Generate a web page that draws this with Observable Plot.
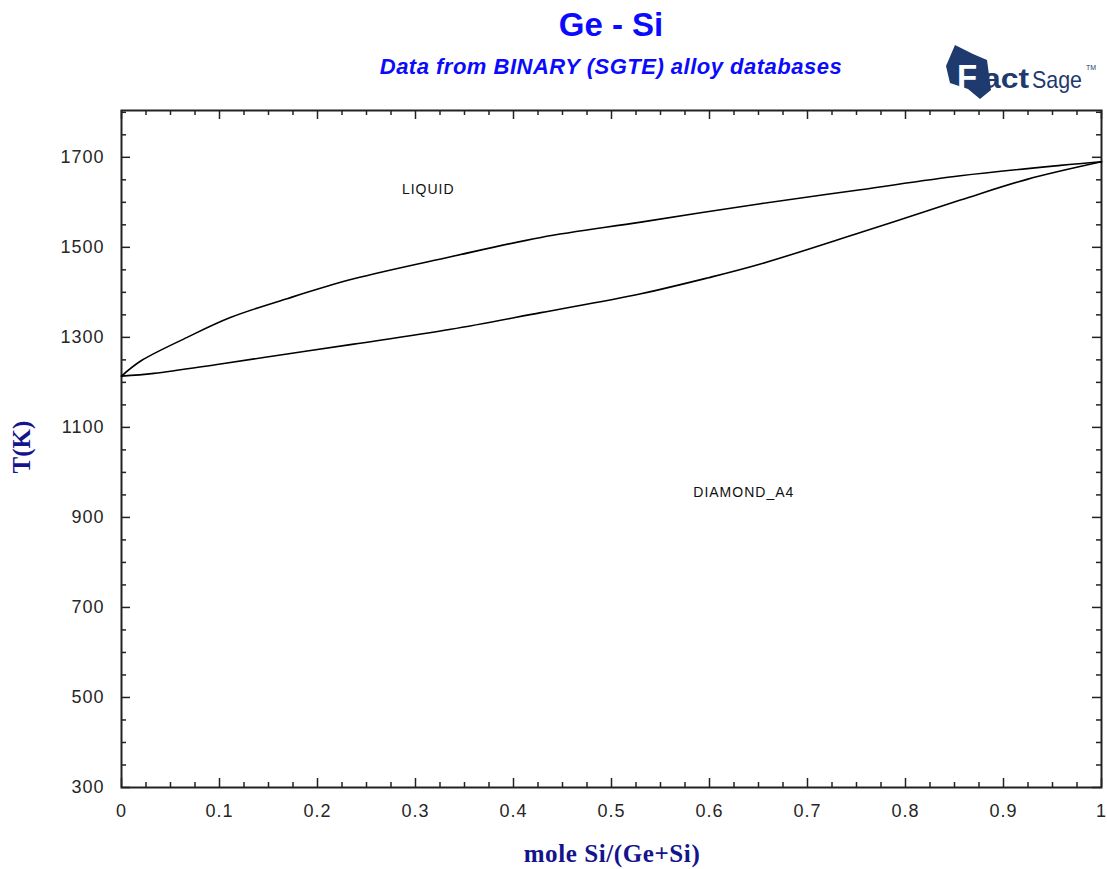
<!DOCTYPE html>
<html>
<head>
<meta charset="utf-8">
<script src="https://cdn.jsdelivr.net/npm/d3@7"></script>
<script src="https://cdn.jsdelivr.net/npm/@observablehq/plot@0.6"></script>
<style>
  html, body { margin: 0; padding: 0; background: #fff; }
  #wrap { position: relative; width: 1107px; height: 869px; overflow: hidden; }
  #chart { position: absolute; left: 0; top: 0; }
  .title { position: absolute; left: 0; width: 1222px; text-align: center; color: #0a0aff; font-family: "Liberation Sans", Arial, sans-serif; white-space: nowrap; }
  #t1 { top: 6px; font-size: 33px; font-weight: bold; }
  #t2 { top: 54px; font-size: 22px; font-weight: bold; font-style: italic; letter-spacing: 0.5px; }
  .axt { position: absolute; color: #14148c; font-family: "Liberation Serif", "Times New Roman", serif; font-weight: bold; font-size: 25px; white-space: nowrap; }
  #xt { left: 0; width: 1224px; text-align: center; top: 840px; letter-spacing: 0.6px; }
  #yt { left: 22px; top: 447px; transform: translate(-50%, -50%) rotate(-90deg); }
  #logo { position: absolute; left: 945px; top: 42px; }
</style>
</head>
<body>
<div id="wrap">
  <div id="chart"></div>
  <div class="title" id="t1">Ge - Si</div>
  <div class="title" id="t2">Data from BINARY (SGTE) alloy databases</div>
  <div class="axt" id="xt">mole Si/(Ge+Si)</div>
  <div class="axt" id="yt">T(K)</div>
  <svg id="logo" width="158" height="60" viewBox="0 0 158 60">
    <polygon points="10,3 28,12 42,18 46,48 35,57 23,47 5,41 1,24" fill="#1f3a6e"/>
    <text x="12" y="46" font-family="Liberation Sans, Arial, sans-serif" font-weight="bold" font-size="33" fill="#ffffff">F</text>
    <text x="38" y="46" font-family="Liberation Sans, Arial, sans-serif" font-weight="bold" font-size="27" fill="#1f3a6e" textLength="46" lengthAdjust="spacingAndGlyphs">act</text>
    <text x="87" y="46" font-family="Liberation Sans Narrow, Liberation Sans, Arial, sans-serif" font-size="24" fill="#1f3a6e" textLength="50" lengthAdjust="spacingAndGlyphs">Sage</text>
    <text x="141" y="28" font-family="Liberation Sans, Arial, sans-serif" font-size="8" fill="#1f3a6e" textLength="10" lengthAdjust="spacingAndGlyphs">TM</text>
  </svg>
</div>
<script>
// Liquidus: mole fraction Si vs T(K)
const liquidusX = [0, 0.02, 0.067, 0.111, 0.169, 0.237, 0.336, 0.428, 0.53, 0.652, 0.754, 0.856, 0.958, 1];
const liquidusT = [1214, 1248, 1300, 1344, 1386, 1430, 1479, 1522, 1556, 1597, 1628, 1659, 1682, 1690];
// Solidus
const solidusX = [0, 0.033, 0.101, 0.169, 0.237, 0.336, 0.428, 0.53, 0.598, 0.652, 0.754, 0.856, 0.924, 1];
const solidusT = [1214, 1220, 1241, 1263, 1285, 1318, 1355, 1397, 1432, 1463, 1533, 1605, 1651, 1690];

const xMajor = [0, 0.1, 0.2, 0.3, 0.4, 0.5, 0.6, 0.7, 0.8, 0.9, 1];
const xMinor = [0.025, 0.05, 0.075, 0.125, 0.15, 0.175, 0.225, 0.25, 0.275, 0.325, 0.35, 0.375,
  0.425, 0.45, 0.475, 0.525, 0.55, 0.575, 0.625, 0.65, 0.675, 0.725, 0.75, 0.775,
  0.825, 0.85, 0.875, 0.925, 0.95, 0.975];
const yMajor = [300, 500, 700, 900, 1100, 1300, 1500, 1700];
const yMinor = [350, 400, 450, 550, 600, 650, 750, 800, 850, 950, 1000, 1050, 1150, 1200, 1250,
  1350, 1400, 1450, 1550, 1600, 1650, 1750, 1800];

const phaseLabels = ["LIQUID", "DIAMOND_A4"];
const phaseX = [0.313, 0.635];
const phaseT = [1628, 955];

const liquidus = liquidusX.map((x, i) => ({x, T: liquidusT[i]}));
const solidus = solidusX.map((x, i) => ({x, T: solidusT[i]}));
const phases = phaseLabels.map((label, i) => ({label, x: phaseX[i], T: phaseT[i]}));

const W = 1107, H = 869, mL = 121, mR = 6, mT = 110, mB = 82;
const pw = W - mL - mR, ph = H - mT - mB;
const maj = 9, mnr = 5;

const plot = Plot.plot({
  width: W, height: H,
  marginLeft: mL, marginRight: mR, marginTop: mT, marginBottom: mB,
  x: {domain: [0, 1]},
  y: {domain: [300, 1804]},
  style: {fontFamily: "'Liberation Sans', Arial, sans-serif", fontSize: "18px", color: "#262626", background: "#fff", letterSpacing: "1px"},
  marks: [
    // inward ticks on all four sides
    Plot.tickX(xMajor, {x: d => d, insetTop: ph - maj, stroke: "#222", strokeWidth: 1.5}),
    Plot.tickX(xMinor, {x: d => d, insetTop: ph - mnr, stroke: "#222", strokeWidth: 1.5}),
    Plot.tickX(xMajor, {x: d => d, insetBottom: ph - maj, stroke: "#222", strokeWidth: 1.5}),
    Plot.tickX(xMinor, {x: d => d, insetBottom: ph - mnr, stroke: "#222", strokeWidth: 1.5}),
    Plot.tickY(yMajor, {y: d => d, insetRight: pw - maj, stroke: "#222", strokeWidth: 1.5}),
    Plot.tickY(yMinor, {y: d => d, insetRight: pw - mnr, stroke: "#222", strokeWidth: 1.5}),
    Plot.tickY(yMajor, {y: d => d, insetLeft: pw - maj, stroke: "#222", strokeWidth: 1.5}),
    Plot.tickY(yMinor, {y: d => d, insetLeft: pw - mnr, stroke: "#222", strokeWidth: 1.5}),
    Plot.axisX({ticks: xMajor, tickSize: 0, tickPadding: 17, label: null, tickFormat: d => String(d)}),
    Plot.axisY({ticks: yMajor, tickSize: 0, tickPadding: 17, label: null, tickFormat: d => String(d)}),
    Plot.frame({stroke: "#222", strokeWidth: 2}),
    Plot.line(liquidus, {x: "x", y: "T", stroke: "#000", strokeWidth: 1.6, curve: "catmull-rom"}),
    Plot.line(solidus, {x: "x", y: "T", stroke: "#000", strokeWidth: 1.6, curve: "catmull-rom"}),
    Plot.text(phases, {x: "x", y: "T", text: "label", fontSize: 14, fill: "#111", style: "letter-spacing:1.5px"})
  ]
});
document.getElementById("chart").appendChild(plot);
</script>
</body>
</html>
